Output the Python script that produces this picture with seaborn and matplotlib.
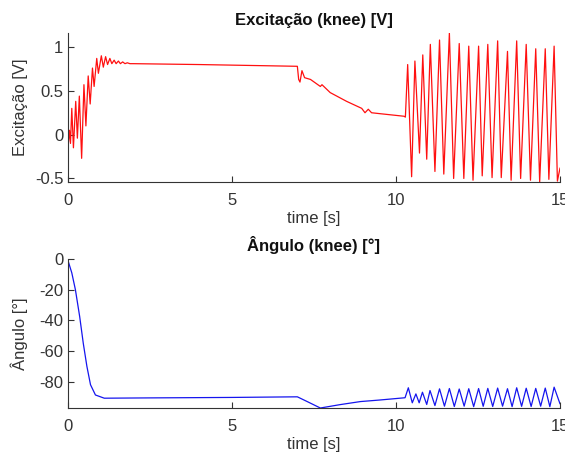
import matplotlib
matplotlib.use("Agg")
import matplotlib.pyplot as plt
import seaborn as sns
import pandas as pd

# Excitation (knee) [V], vertices of the trace
exc_time = [0.00, 0.03, 0.06, 0.09, 0.13, 0.18, 0.25, 0.30, 0.36, 0.43,
            0.50, 0.56, 0.63, 0.69, 0.76, 0.81, 0.89, 0.94, 1.03, 1.09,
            1.16, 1.22, 1.29, 1.35, 1.42, 1.48, 1.55, 1.61, 1.68, 1.75,
            1.82, 1.90, 2.00,
            4.00, 7.00, 7.04, 7.08, 7.14, 7.22, 7.40, 7.70, 7.75, 8.00,
            8.50, 8.96, 9.06, 9.16, 9.26, 9.50, 10.25, 10.29,
            10.36, 10.48, 10.58, 10.72, 10.82, 10.94, 11.05, 11.19, 11.33, 11.46,
            11.63, 11.76, 11.93, 12.07, 12.22, 12.35, 12.52, 12.63, 12.80, 12.93,
            13.10, 13.21, 13.40, 13.51, 13.68, 13.80, 13.97, 14.10, 14.26, 14.38,
            14.55, 14.66, 14.82, 14.92, 15.00]
exc_volt = [0.00, -0.08, 0.05, -0.10, 0.30, -0.15, 0.38, -0.04, 0.44, -0.27,
            0.57, 0.10, 0.67, 0.35, 0.76, 0.55, 0.87, 0.70, 0.90, 0.77,
            0.89, 0.80, 0.87, 0.81, 0.85, 0.81, 0.84, 0.81, 0.83, 0.81,
            0.82, 0.81, 0.81,
            0.80, 0.78, 0.63, 0.60, 0.73, 0.65, 0.63, 0.55, 0.57, 0.48,
            0.38, 0.30, 0.25, 0.29, 0.25, 0.24, 0.21, 0.20,
            0.80, -0.48, 0.84, -0.21, 0.91, -0.28, 1.03, -0.42, 1.08, -0.45,
            1.16, -0.50, 1.04, -0.50, 1.01, -0.52, 1.01, -0.47, 1.03, -0.49,
            1.07, -0.49, 0.95, -0.52, 1.07, -0.50, 1.03, -0.52, 0.98, -0.54,
            0.98, -0.51, 1.01, -0.53, -0.38]

# Angle (knee) [deg]
ang_time = [0.00, 0.13, 0.24, 0.37, 0.48, 0.59, 0.70, 0.85, 1.12, 2.50,
            5.00, 7.00, 7.30, 7.70, 8.30, 8.92, 9.50, 10.02, 10.28,
            10.38, 10.50, 10.61, 10.71, 10.81, 10.94, 11.04, 11.19, 11.33, 11.48,
            11.63, 11.78, 11.93, 12.08, 12.22, 12.37, 12.52, 12.66, 12.80, 12.95,
            13.10, 13.25, 13.40, 13.54, 13.68, 13.83, 13.97, 14.12, 14.26, 14.41,
            14.55, 14.69, 14.82, 15.00]
ang_deg = [0.0, -9.0, -20.0, -37.5, -55.0, -70.0, -82.0, -88.7, -90.8, -90.6,
           -90.3, -89.9, -93.0, -97.2, -95.0, -93.0, -92.0, -91.0, -90.5,
           -84.0, -93.8, -88.0, -93.8, -86.9, -94.9, -85.8, -95.6, -84.7, -96.0,
           -84.5, -96.2, -84.8, -96.0, -84.6, -96.3, -84.5, -96.1, -84.4, -96.2,
           -84.2, -96.0, -84.6, -96.3, -84.0, -96.1, -84.3, -96.2, -84.4, -96.0,
           -84.2, -96.3, -83.6, -94.5]

x_ticks = [0, 5, 10, 15]
exc_yticks = [-0.5, 0, 0.5, 1]
ang_yticks = [0, -20, -40, -60, -80]

sns.set_style("ticks")
plt.rcParams['font.family'] = ['Liberation Sans', 'DejaVu Sans']

axis_color = "#333333"

fig = plt.figure(figsize=(5.65, 4.57), dpi=100)
ax1 = fig.add_axes([0.1195, 0.6018, 0.8717, 0.326])
ax2 = fig.add_axes([0.1195, 0.1072, 0.8717, 0.326])

exc_df = pd.DataFrame({"t": exc_time, "v": exc_volt})
ang_df = pd.DataFrame({"t": ang_time, "v": ang_deg})

sns.lineplot(data=exc_df, x="t", y="v", ax=ax1, color="#ff1010", linewidth=0.9)
sns.lineplot(data=ang_df, x="t", y="v", ax=ax2, color="#1515ee", linewidth=0.9)

panels = [
    (ax1, "Excitação (knee) [V]", "Excitação [V]", exc_yticks, exc_df),
    (ax2, "Ângulo (knee) [°]", "Ângulo [°]", ang_yticks, ang_df),
]
for ax, title, ylabel, yticks, df in panels:
    ax.set_xlim(0, 15)
    ax.set_ylim(df["v"].min(), df["v"].max())
    ax.set_xticks(x_ticks)
    ax.set_yticks(yticks)
    ax.set_yticklabels([f"{y:g}" for y in yticks])
    ax.set_title(title, fontsize=12, fontweight="bold", pad=6, color="#111111")
    ax.set_xlabel("time [s]", fontsize=12, labelpad=2, color=axis_color)
    ax.set_ylabel(ylabel, fontsize=12, color=axis_color)
    ax.yaxis.set_label_coords(-0.080, 0.5)
    sns.despine(ax=ax)
    for side in ["left", "bottom"]:
        ax.spines[side].set_color(axis_color)
        ax.spines[side].set_linewidth(0.8)
    ax.tick_params(axis="both", direction="in", length=4, width=0.8,
                   colors=axis_color, labelsize=12)
    ax.tick_params(axis="x", pad=8)
    ax.tick_params(axis="y", pad=3)

fig.savefig("out.png", dpi=100)
